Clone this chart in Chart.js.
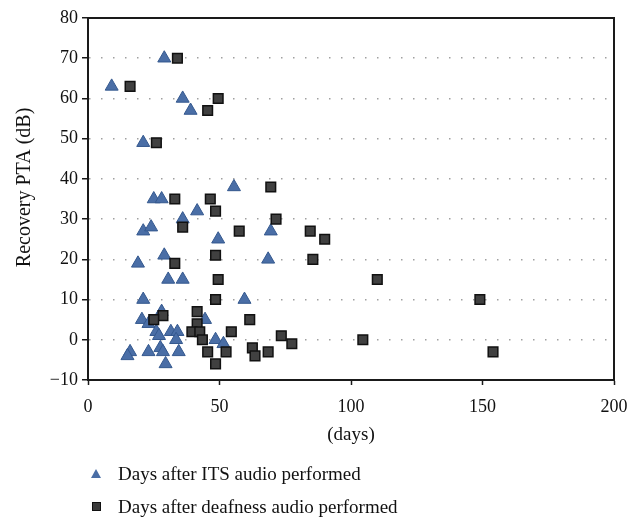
<!DOCTYPE html>
<html>
<head>
<meta charset="utf-8">
<script src="https://cdn.jsdelivr.net/npm/chart.js@4.4.0/dist/chart.umd.min.js"></script>
<style>
    body { margin: 0; background: #fff; }
    #wrap { position: relative; width: 640px; height: 520px; }
    .leg { position: absolute; left: 118px; font: 19px "Liberation Serif", serif; color: #111; white-space: nowrap; }
    .tri { position: absolute; left: 91px; top: 469px; width: 0; height: 0;
        border-left: 5px solid transparent; border-right: 5px solid transparent; border-bottom: 9px solid #4a6ea6; }
    .sq { position: absolute; left: 92px; top: 502px; width: 7px; height: 7px; background: #3c3c3c; border: 1px solid #111; }
</style>
</head>
<body>
<div id="wrap">
    <canvas id="scatterChart"></canvas>
    <div class="tri"></div>
    <div class="leg" style="top:463px">Days after ITS audio performed</div>
    <div class="sq"></div>
    <div class="leg" style="top:496px">Days after deafness audio performed</div>
</div>
<script>
// days / recovery PTA
var itsDays = [9, 29, 36, 39, 21, 55.5, 25, 28, 41.5, 36, 21, 24, 49.5, 69.5, 29, 19, 68.5, 30.5, 36, 21,
    59.5, 28, 20.5, 23, 44.5, 26, 27, 31.5, 34, 33.5, 48.5, 51.5, 16, 15, 23, 27.5, 28.5, 34.5, 29.5];
var itsPta = [63, 70, 60, 57, 49, 38, 35, 35, 32, 30, 27, 28, 25, 27, 21, 19, 20, 15, 15, 10,
    10, 7, 5, 4, 5, 2, 1, 2, 2, 0, 0, -1, -3, -4, -3, -2, -3, -3, -6];

var deafDays = [16, 34, 49.5, 45.5, 26, 69.5, 33, 46.5, 48.5, 71.5, 36, 57.5, 84.5, 90, 48.5, 85.5, 33, 49.5, 110, 48.5,
    149, 41.5, 28.5, 25, 41.5, 61.5, 39.5, 42.5, 54.5, 43.5, 73.5, 77.5, 104.5, 45.5, 52.5, 62.5, 63.5, 68.5, 154, 48.5];
var deafPta = [63, 70, 60, 57, 49, 38, 35, 35, 32, 30, 28, 27, 27, 25, 21, 20, 19, 15, 15, 10,
    10, 7, 6, 5, 4, 5, 2, 2, 2, 0, 1, -1, 0, -3, -3, -2, -4, -3, -3, -6];

var xTicks = [0, 50, 100, 150, 200];
var yTicks = [-10, 0, 10, 20, 30, 40, 50, 60, 70, 80];
var yTitle = 'Recovery PTA (dB)';

function toPoints(xs, ys) {
    return xs.map(function (x, i) { return {x: x, y: ys[i]}; });
}

const serif = '"Liberation Serif", serif';

// closed frame round the plot + y title a bit above centre, like the original
const frameBox = {
    id: 'frameBox',
    afterDatasetsDraw(chart) {
        const a = chart.chartArea, ctx = chart.ctx;
        ctx.save();
        ctx.strokeStyle = '#1a1a1a';
        ctx.lineWidth = 2;
        ctx.strokeRect(a.left, a.top, a.right - a.left, a.bottom - a.top);
        ctx.translate(25, a.top + (a.bottom - a.top) * 0.468);
        ctx.rotate(-Math.PI / 2);
        ctx.fillStyle = '#111';
        ctx.font = '20px ' + serif;
        ctx.textAlign = 'center';
        ctx.textBaseline = 'middle';
        ctx.fillText(yTitle, 0, 0);
        ctx.restore();
    }
};

const ctx = document.getElementById('scatterChart').getContext('2d');
const myChart = new Chart(ctx, {
    type: 'scatter',
    data: {
        datasets: [{
            label: 'Days after ITS audio performed',
            data: toPoints(itsDays, itsPta),
            pointStyle: 'triangle',
            pointRadius: 7.5,
            backgroundColor: '#4a6ea6',
            borderColor: '#34588e',
            borderWidth: 1,
            order: 1
        }, {
            label: 'Days after deafness audio performed',
            data: toPoints(deafDays, deafPta),
            pointStyle: 'rect',
            pointRadius: 6.8,
            backgroundColor: '#404040',
            borderColor: '#111111',
            borderWidth: 1.5,
            order: 0
        }]
    },
    options: {
        responsive: true,
        maintainAspectRatio: false,
        animation: false,
        layout: { padding: { top: 18, right: 26, bottom: 70, left: 0 } },
        plugins: {
            legend: { display: false },
            tooltip: { enabled: false }
        },
        scales: {
            x: {
                type: 'linear',
                min: 0, max: 200,
                afterBuildTicks: function (s) { s.ticks = xTicks.map(function (v) { return {value: v}; }); },
                afterFit: function (s) { s.height = 70; },
                grid: { display: true, drawOnChartArea: false, tickLength: 5, tickColor: '#1a1a1a', tickWidth: 1.5 },
                border: { color: '#1a1a1a', width: 2 },
                ticks: { color: '#111', padding: 11, font: { family: serif, size: 18 } },
                title: { display: true, text: '(days)', color: '#111', padding: { top: 1 }, font: { family: serif, size: 19 } }
            },
            y: {
                type: 'linear',
                min: -10, max: 80,
                afterBuildTicks: function (s) { s.ticks = yTicks.map(function (v) { return {value: v}; }); },
                afterFit: function (s) { s.width = 88; },
                grid: {
                    color: function (c) {
                        var v = c.tick ? c.tick.value : null;
                        return (v === 80 || v === -10) ? 'rgba(0,0,0,0)' : '#a0a0a0';
                    },
                    lineWidth: 1.5,
                    tickLength: 6, tickColor: '#1a1a1a', tickWidth: 1.5
                },
                border: { color: '#1a1a1a', width: 2, dash: [1.5, 10.5] },
                ticks: {
                    color: '#111', padding: 4, font: { family: serif, size: 18 },
                    callback: function (v) { return String(v).replace('-', '\u2212'); }
                },
                title: { display: false }
            }
        }
    },
    plugins: [frameBox]
});
</script>
</body>
</html>
